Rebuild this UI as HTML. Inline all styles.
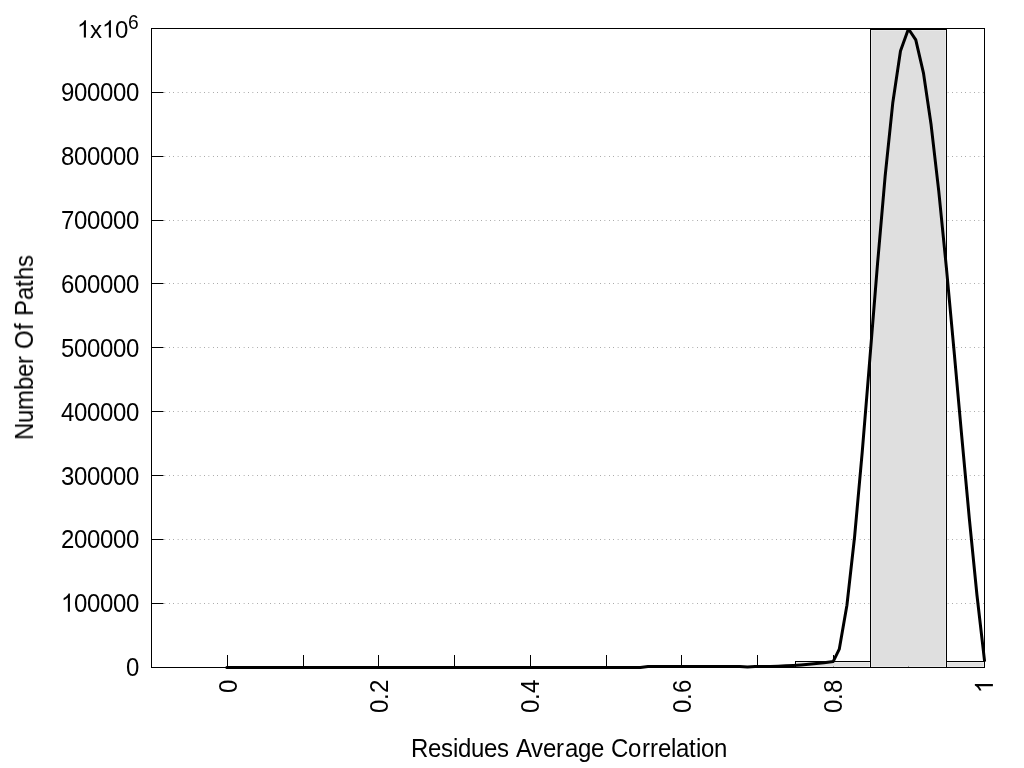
<!DOCTYPE html>
<html><head><meta charset="utf-8"><title>plot</title>
<style>html,body{margin:0;padding:0;background:#fff;width:1024px;height:768px;overflow:hidden}</style>
</head><body>
<svg width="1024" height="768" viewBox="0 0 1024 768" style="position:absolute;left:0;top:0">
<rect width="1024" height="768" fill="#ffffff"/>
<line x1="151.40" y1="603.5" x2="984.5" y2="603.5" stroke="#767676" stroke-width="1" stroke-dasharray="0.6 3.8"/>
<line x1="151.40" y1="539.5" x2="984.5" y2="539.5" stroke="#767676" stroke-width="1" stroke-dasharray="0.6 3.8"/>
<line x1="151.40" y1="475.5" x2="984.5" y2="475.5" stroke="#767676" stroke-width="1" stroke-dasharray="0.6 3.8"/>
<line x1="151.40" y1="411.5" x2="984.5" y2="411.5" stroke="#767676" stroke-width="1" stroke-dasharray="0.6 3.8"/>
<line x1="151.40" y1="347.5" x2="984.5" y2="347.5" stroke="#767676" stroke-width="1" stroke-dasharray="0.6 3.8"/>
<line x1="151.40" y1="283.5" x2="984.5" y2="283.5" stroke="#767676" stroke-width="1" stroke-dasharray="0.6 3.8"/>
<line x1="151.40" y1="220.5" x2="984.5" y2="220.5" stroke="#767676" stroke-width="1" stroke-dasharray="0.6 3.8"/>
<line x1="151.40" y1="156.5" x2="984.5" y2="156.5" stroke="#767676" stroke-width="1" stroke-dasharray="0.6 3.8"/>
<line x1="151.40" y1="92.5" x2="984.5" y2="92.5" stroke="#767676" stroke-width="1" stroke-dasharray="0.6 3.8"/>
<rect x="151.5" y="28.5" width="833.0" height="639.0" fill="none" stroke="#000" stroke-width="1"/>
<line x1="151.5" y1="667.5" x2="163.5" y2="667.5" stroke="#000" stroke-width="1"/>
<line x1="151.5" y1="603.5" x2="163.5" y2="603.5" stroke="#000" stroke-width="1"/>
<line x1="151.5" y1="539.5" x2="163.5" y2="539.5" stroke="#000" stroke-width="1"/>
<line x1="151.5" y1="475.5" x2="163.5" y2="475.5" stroke="#000" stroke-width="1"/>
<line x1="151.5" y1="411.5" x2="163.5" y2="411.5" stroke="#000" stroke-width="1"/>
<line x1="151.5" y1="347.5" x2="163.5" y2="347.5" stroke="#000" stroke-width="1"/>
<line x1="151.5" y1="283.5" x2="163.5" y2="283.5" stroke="#000" stroke-width="1"/>
<line x1="151.5" y1="220.5" x2="163.5" y2="220.5" stroke="#000" stroke-width="1"/>
<line x1="151.5" y1="156.5" x2="163.5" y2="156.5" stroke="#000" stroke-width="1"/>
<line x1="151.5" y1="92.5" x2="163.5" y2="92.5" stroke="#000" stroke-width="1"/>
<line x1="151.5" y1="28.5" x2="163.5" y2="28.5" stroke="#000" stroke-width="1"/>
<line x1="227.5" y1="667.5" x2="227.5" y2="655.0" stroke="#000" stroke-width="1"/>
<line x1="303.5" y1="667.5" x2="303.5" y2="655.0" stroke="#000" stroke-width="1"/>
<line x1="378.5" y1="667.5" x2="378.5" y2="655.0" stroke="#000" stroke-width="1"/>
<line x1="454.5" y1="667.5" x2="454.5" y2="655.0" stroke="#000" stroke-width="1"/>
<line x1="530.5" y1="667.5" x2="530.5" y2="655.0" stroke="#000" stroke-width="1"/>
<line x1="606.5" y1="667.5" x2="606.5" y2="655.0" stroke="#000" stroke-width="1"/>
<line x1="681.5" y1="667.5" x2="681.5" y2="655.0" stroke="#000" stroke-width="1"/>
<line x1="757.5" y1="667.5" x2="757.5" y2="655.0" stroke="#000" stroke-width="1"/>
<line x1="833.5" y1="667.5" x2="833.5" y2="655.0" stroke="#000" stroke-width="1"/>
<line x1="908.5" y1="667.5" x2="908.5" y2="655.0" stroke="#000" stroke-width="1"/>
<line x1="984.5" y1="667.5" x2="984.5" y2="655.0" stroke="#000" stroke-width="1"/>
<rect x="796.30" y="662.30" width="73.40" height="4.40" fill="#dfdfdf"/>
<rect x="795.5" y="661.5" width="75.0" height="6.0" fill="none" stroke="#000" stroke-width="1"/>
<rect x="871.30" y="30.30" width="74.40" height="636.40" fill="#dfdfdf"/>
<rect x="870.5" y="29.5" width="76.0" height="638.0" fill="none" stroke="#000" stroke-width="1"/>
<rect x="947.30" y="662.30" width="36.40" height="4.40" fill="#dfdfdf"/>
<rect x="946.5" y="661.5" width="38.0" height="6.0" fill="none" stroke="#000" stroke-width="1"/>
<clipPath id="c"><rect x="151.5" y="28.0" width="835.0" height="641.5"/></clipPath>
<polyline clip-path="url(#c)" points="226.84,667.50 234.89,667.50 242.54,667.50 250.19,667.50 257.84,667.50 265.49,667.50 273.14,667.50 280.79,667.50 288.44,667.50 296.09,667.50 303.74,667.50 311.39,667.50 319.04,667.50 326.69,667.50 334.34,667.50 342.00,667.50 349.65,667.50 357.30,667.50 364.95,667.50 372.60,667.50 380.25,667.50 387.90,667.50 395.55,667.50 403.20,667.50 410.85,667.50 418.50,667.50 426.15,667.50 433.80,667.50 441.45,667.50 449.10,667.50 456.75,667.50 464.40,667.50 472.05,667.50 479.70,667.50 487.35,667.50 495.00,667.50 502.65,667.50 510.30,667.50 517.95,667.50 525.61,667.50 533.26,667.50 540.91,667.50 548.56,667.50 556.21,667.50 563.86,667.50 571.51,667.50 579.16,667.50 586.81,667.50 594.46,667.50 602.11,667.50 609.76,667.50 617.41,667.50 625.06,667.50 632.71,667.50 640.36,667.50 648.01,666.50 655.66,666.50 663.31,666.50 670.96,666.50 678.61,666.50 686.26,666.50 693.91,666.50 701.56,666.50 709.22,666.50 716.87,666.50 724.52,666.50 732.17,666.50 739.82,666.50 747.47,667.05 755.12,666.55 757.41,666.54 762.77,666.52 770.42,666.39 778.07,666.17 785.72,665.84 793.37,665.41 801.02,664.88 808.67,664.25 816.32,663.52 823.97,662.69 831.62,661.76 833.15,661.56 839.27,649.17 846.92,605.27 854.57,537.04 862.22,452.24 869.87,358.63 877.52,263.95 885.17,175.96 892.83,102.42 900.48,51.09 908.13,29.71 908.89,29.52 915.78,39.80 923.43,72.83 931.08,124.59 938.73,190.90 946.38,267.62 954.03,350.58 961.68,435.61 969.33,518.56 976.98,595.26 984.63,661.56" fill="none" stroke="#000" stroke-width="3" stroke-linejoin="round" stroke-linecap="butt"/>
<circle cx="226.84" cy="667.50" r="1.5" fill="#000"/>
<g font-family="Liberation Sans, sans-serif" font-size="24px" fill="#000" opacity="0.999" style="font-kerning:none">
<g transform="translate(139.00,675.65)">
<text transform="scale(1,1.047)" x="-13.00" y="0">0</text>
</g>
<g transform="translate(139.00,611.65)">
<text transform="scale(1,1.047)" x="-65.00 -52.00 -39.00 -26.00 -13.00" y="0">00000</text>
<path transform="translate(-78.00,0) scale(0.011719,-0.012270)" d="M763 0H583V1147Q518 1085 412.5 1023T223 930V1104Q374 1175 487 1276T647 1472H763Z"/>
</g>
<g transform="translate(139.00,547.65)">
<text transform="scale(1,1.047)" x="-78.00 -65.00 -52.00 -39.00 -26.00 -13.00" y="0">200000</text>
</g>
<g transform="translate(139.00,484.65)">
<text transform="scale(1,1.047)" x="-78.00 -65.00 -52.00 -39.00 -26.00 -13.00" y="0">300000</text>
</g>
<g transform="translate(139.00,420.65)">
<text transform="scale(1,1.047)" x="-78.00 -65.00 -52.00 -39.00 -26.00 -13.00" y="0">400000</text>
</g>
<g transform="translate(139.00,356.65)">
<text transform="scale(1,1.047)" x="-78.00 -65.00 -52.00 -39.00 -26.00 -13.00" y="0">500000</text>
</g>
<g transform="translate(139.00,292.65)">
<text transform="scale(1,1.047)" x="-78.00 -65.00 -52.00 -39.00 -26.00 -13.00" y="0">600000</text>
</g>
<g transform="translate(139.00,228.65)">
<text transform="scale(1,1.047)" x="-78.00 -65.00 -52.00 -39.00 -26.00 -13.00" y="0">700000</text>
</g>
<g transform="translate(139.00,164.65)">
<text transform="scale(1,1.047)" x="-78.00 -65.00 -52.00 -39.00 -26.00 -13.00" y="0">800000</text>
</g>
<g transform="translate(139.00,100.65)">
<text transform="scale(1,1.047)" x="-78.00 -65.00 -52.00 -39.00 -26.00 -13.00" y="0">900000</text>
</g>
<g transform="translate(77.00,37.60)">
<text transform="scale(1,1.0)" x="13.00 38.00" y="0">x0</text>
<path transform="translate(0.00,0) scale(0.011719,-0.011719)" d="M763 0H583V1147Q518 1085 412.5 1023T223 930V1104Q374 1175 487 1276T647 1472H763Z"/>
<path transform="translate(25.00,0) scale(0.011719,-0.011719)" d="M763 0H583V1147Q518 1085 412.5 1023T223 930V1104Q374 1175 487 1276T647 1472H763Z"/>
</g>
<text transform="translate(127.9,28.6) scale(1,1.07)" font-size="19.2px">6</text>
<g transform="translate(236.80,680.00) rotate(-90)">
<text transform="scale(1,1.047)" x="-13.00" y="0">0</text>
</g>
<g transform="translate(387.80,680.00) rotate(-90)">
<text transform="scale(1,1.047)" x="-33.00 -20.00 -13.00" y="0">0.2</text>
</g>
<g transform="translate(538.90,680.00) rotate(-90)">
<text transform="scale(1,1.047)" x="-33.00 -20.00 -13.00" y="0">0.4</text>
</g>
<g transform="translate(690.80,680.00) rotate(-90)">
<text transform="scale(1,1.047)" x="-33.00 -20.00 -13.00" y="0">0.6</text>
</g>
<g transform="translate(841.90,680.00) rotate(-90)">
<text transform="scale(1,1.047)" x="-33.00 -20.00 -13.00" y="0">0.8</text>
</g>
<g transform="translate(992.90,680.00) rotate(-90)">
<path transform="translate(-13.00,0) scale(0.011719,-0.012270)" d="M763 0H583V1147Q518 1085 412.5 1023T223 930V1104Q374 1175 487 1276T647 1472H763Z"/>
</g>
<g transform="translate(33.00,347.50) rotate(-90)">
<text transform="scale(1,1.047)" x="-92.50 -75.50 -62.50 -42.50 -29.50 -16.50 -8.50 -1.50 17.50 24.50 31.50 47.50 60.50 67.50 80.50" y="0">Number Of Paths</text>
</g>
<g transform="translate(411.00,756.60)">
<text transform="scale(1,1.047)" x="0.00 17.00 30.00 42.00 47.00 60.00 73.00 86.00 98.00 105.00 120.00 132.00 145.00 154.00 167.00 180.00 193.00 200.00 217.00 231.00 239.00 247.00 260.00 265.00 278.00 285.00 290.00 303.00" y="0">Residues Average Correlation</text>
</g>
</g>
</svg>
</body></html>
